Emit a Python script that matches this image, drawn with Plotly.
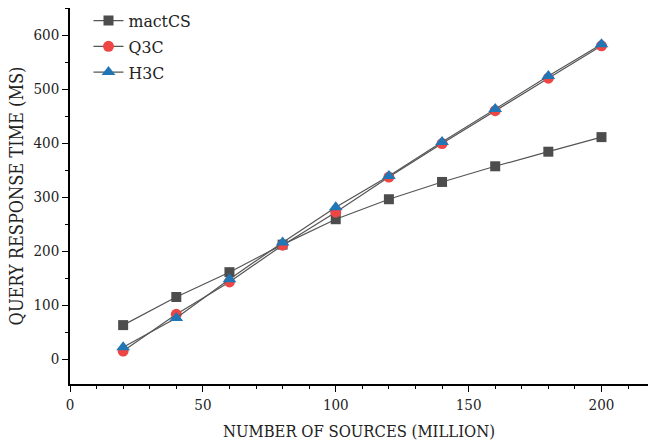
import plotly.graph_objects as go

x_vals = [20, 40, 60, 80, 100, 120, 140, 160, 180, 200]
mactcs = [63, 115, 161, 212, 259, 296, 328, 357, 384, 411]
q3c = [15, 83, 143, 211, 272, 337, 399, 460, 520, 580]
h3c = [22, 76, 148, 216, 281, 339, 402, 463, 524, 583]

line_col = "#555555"
fig = go.Figure()
fig.add_trace(go.Scatter(x=x_vals, y=mactcs, name="mactCS", mode="lines+markers",
                         line=dict(color=line_col, width=1.2),
                         marker=dict(symbol="square", size=10, color="#4d4d4d")))
fig.add_trace(go.Scatter(x=x_vals, y=q3c, name="Q3C", mode="lines+markers",
                         line=dict(color=line_col, width=1.2),
                         marker=dict(symbol="circle", size=11, color="#ee4545")))
fig.add_trace(go.Scatter(x=x_vals, y=h3c, name="H3C", mode="lines+markers",
                         line=dict(color=line_col, width=1.2),
                         marker=dict(symbol="triangle-up", size=12, color="#2176b5")))

font_fam = "DejaVu Serif Condensed, Liberation Serif, serif"
fig.update_layout(
    width=649, height=442,
    margin=dict(l=70, r=1, t=8, b=58),
    paper_bgcolor="white", plot_bgcolor="white",
    font=dict(family=font_fam, color="#222222"),
    showlegend=True,
    legend=dict(x=0.032, y=1.014, xanchor="left", yanchor="top",
                font=dict(size=17.5, family=font_fam), bgcolor="rgba(0,0,0,0)",
                tracegroupgap=0, itemwidth=30),
)
fig.update_xaxes(range=[0, 217.5], showline=True, linecolor="black", linewidth=1.5,
                 showgrid=False, zeroline=False, ticks="outside", tickcolor="black",
                 ticklen=6, tickwidth=1.2, dtick=50, tick0=0,
                 minor=dict(ticks="outside", ticklen=3, dtick=10, tickcolor="black", showgrid=False),
                 tickfont=dict(size=15),
                 title=dict(text="NUMBER OF SOURCES (MILLION)", font=dict(size=16.5), standoff=13))
fig.update_yaxes(range=[-46, 650], showline=True, linecolor="black", linewidth=1.5,
                 showgrid=False, zeroline=False, ticks="outside", tickcolor="black",
                 ticklen=6, tickwidth=1.2, dtick=100, tick0=0,
                 minor=dict(ticks="outside", ticklen=3, dtick=50, tickcolor="black", showgrid=False),
                 tickfont=dict(size=15),
                 title=dict(text="QUERY RESPONSE TIME (MS)", font=dict(size=18), standoff=5))
fig.write_html("out.html")
